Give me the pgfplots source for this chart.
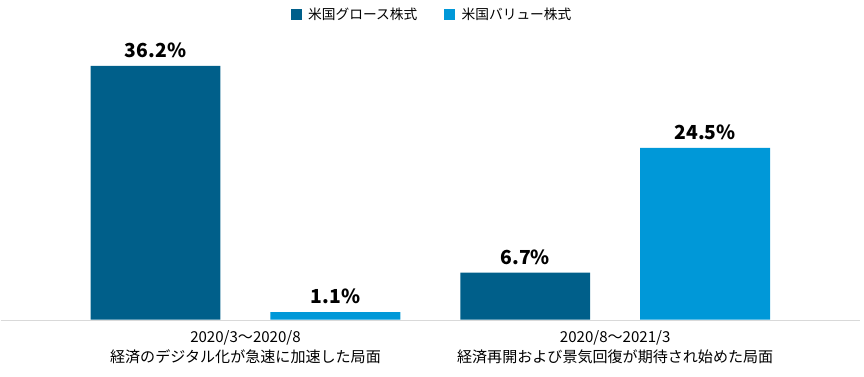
\documentclass[border=0pt]{standalone}
\usepackage{pgfplots}
\pgfplotsset{compat=1.18}
\usepackage{fontspec}
\setmainfont{Noto Sans CJK JP}
\definecolor{cdark}{HTML}{005F8A}
\definecolor{clight}{HTML}{0098D8}
\definecolor{cline}{HTML}{D9D9D9}
\begin{document}
\begin{tikzpicture}
\begin{axis}[
  scale only axis,
  width=648pt, height=282.75pt,
  xmin=0, xmax=864,
  ymin=-8.12, ymax=45.58,
  hide axis,
  clip=false,
  bar width=97.5pt,
  /pgf/number format/assume math mode=true,
  legend columns=2,
  legend style={at={(axis cs:432,43.45)}, anchor=center, draw=none, fill=none,
    font=\fontsize{10.3}{12}\selectfont, column sep=0pt, inner sep=0pt,
    /tikz/every even column/.append style={column sep=18pt}},
  legend image code/.code={\fill[#1,draw=none] (0pt,-4.1pt) rectangle (8.25pt,4.1pt);},
  lbl/.style={nodes near coords={\pgfmathprintnumber[fixed,precision=1,fixed zerofill,assume math mode=true]{\pgfplotspointmeta}\%},
    nodes near coords style={font=\fontsize{14.5}{16}\selectfont\bfseries, anchor=base, yshift=6.2pt, text=black}},
]
\addplot[ybar, bar shift=0pt, fill=cdark, draw=none, lbl] coordinates {(155,36.2) (525,6.7)};
\addlegendentry{\hspace{3pt}米国グロース株式}
\addplot[ybar, bar shift=0pt, fill=clight, draw=none, lbl] coordinates {(335,1.1) (705,24.5)};
\addlegendentry{\hspace{3pt}米国バリュー株式}
\addplot[cline, line width=1pt, forget plot] coordinates {(0,-0.1) (860,-0.1)};
\node[anchor=base, font=\fontsize{11.3}{12}\selectfont] at (axis cs:245,-3.28) {2020/3～2020/8};
\node[anchor=base, font=\fontsize{11.3}{12}\selectfont] at (axis cs:245,-6.13) {経済のデジタル化が急速に加速した局面};
\node[anchor=base, font=\fontsize{11.3}{12}\selectfont] at (axis cs:615,-3.28) {2020/8～2021/3};
\node[anchor=base, font=\fontsize{11.3}{12}\selectfont] at (axis cs:615,-6.13) {経済再開および景気回復が期待され始めた局面};
\path (rel axis cs:0,0) rectangle (rel axis cs:1,1);
\end{axis}
\end{tikzpicture}
\end{document}
